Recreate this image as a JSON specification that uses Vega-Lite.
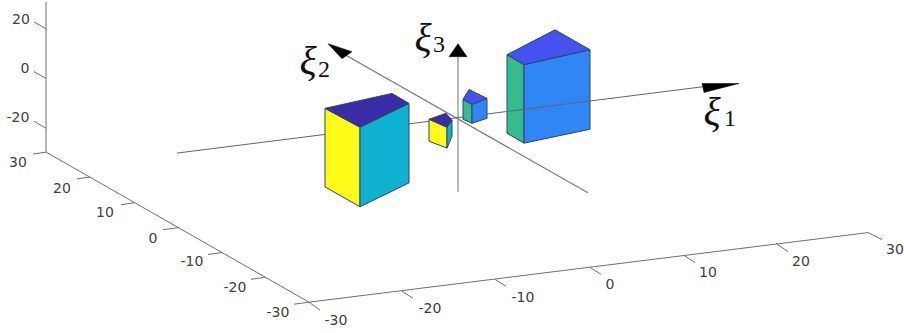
{"$schema":"https://vega.github.io/schema/vega-lite/v6.json","width":904,"height":333,"padding":0,"autosize":{"type":"fit","contains":"padding"},"background":"white","view":{"stroke":null},
"datasets":{
"lines":[
{"s":"zaxis","i":0,"x":46,"y":0},{"s":"zaxis","i":1,"x":46,"y":151},
{"s":"yaxis","i":0,"x":46,"y":151},{"s":"yaxis","i":1,"x":309,"y":302},
{"s":"xaxis","i":0,"x":309,"y":302},{"s":"xaxis","i":1,"x":868,"y":232},
{"s":"zt20","i":0,"x":46,"y":27},{"s":"zt20","i":1,"x":34,"y":20},
{"s":"zt0","i":0,"x":46,"y":77},{"s":"zt0","i":1,"x":34,"y":70},
{"s":"ztm20","i":0,"x":46,"y":127},{"s":"ztm20","i":1,"x":34,"y":120},
{"s":"yt30","i":0,"x":46,"y":151},{"s":"yt30","i":1,"x":33,"y":153},
{"s":"yt20","i":0,"x":90,"y":176},{"s":"yt20","i":1,"x":77,"y":178},
{"s":"yt10","i":0,"x":134,"y":202},{"s":"yt10","i":1,"x":121,"y":204},
{"s":"yt0","i":0,"x":179,"y":227},{"s":"yt0","i":1,"x":163,"y":229},
{"s":"ytm10","i":0,"x":222,"y":252},{"s":"ytm10","i":1,"x":208,"y":254},
{"s":"ytm20","i":0,"x":265,"y":277},{"s":"ytm20","i":1,"x":251,"y":279},
{"s":"ytm30","i":0,"x":309,"y":302},{"s":"ytm30","i":1,"x":294,"y":304},
{"s":"xtm30","i":0,"x":309,"y":302},{"s":"xtm30","i":1,"x":320,"y":310},
{"s":"xtm20","i":0,"x":402,"y":291},{"s":"xtm20","i":1,"x":413,"y":298},
{"s":"xtm10","i":0,"x":495,"y":279},{"s":"xtm10","i":1,"x":506,"y":286},
{"s":"xt0","i":0,"x":590,"y":267},{"s":"xt0","i":1,"x":601,"y":274},
{"s":"xt10","i":0,"x":684,"y":255},{"s":"xt10","i":1,"x":695,"y":262},
{"s":"xt20","i":0,"x":776,"y":243},{"s":"xt20","i":1,"x":788,"y":251},
{"s":"xt30","i":0,"x":868,"y":232},{"s":"xt30","i":1,"x":882,"y":239}
],
"refs":[
{"s":"xi2","i":0,"x":588,"y":192},{"s":"xi2","i":1,"x":345,"y":53},
{"s":"xi3","i":0,"x":458,"y":191},{"s":"xi3","i":1,"x":458,"y":55},
{"s":"xi1","i":0,"x":177,"y":152},{"s":"xi1","i":1,"x":705,"y":85}
],
"faces":[
{"g":"box4","s":"b4l","t":"green","i":0,"x":507,"y":53},{"g":"box4","s":"b4l","t":"green","i":1,"x":524,"y":63},{"g":"box4","s":"b4l","t":"green","i":2,"x":524,"y":142},{"g":"box4","s":"b4l","t":"green","i":3,"x":507,"y":132},
{"g":"box4","s":"b4r","t":"blue","i":0,"x":524,"y":63},{"g":"box4","s":"b4r","t":"blue","i":1,"x":590,"y":48},{"g":"box4","s":"b4r","t":"blue","i":2,"x":590,"y":128},{"g":"box4","s":"b4r","t":"blue","i":3,"x":524,"y":142},
{"g":"box4","s":"b4t","t":"indigo","i":0,"x":507,"y":53},{"g":"box4","s":"b4t","t":"indigo","i":1,"x":555,"y":28},{"g":"box4","s":"b4t","t":"indigo","i":2,"x":590,"y":48},{"g":"box4","s":"b4t","t":"indigo","i":3,"x":524,"y":63},
{"g":"box3","s":"b3l","t":"green","i":0,"x":463,"y":98},{"g":"box3","s":"b3l","t":"green","i":1,"x":472,"y":103},{"g":"box3","s":"b3l","t":"green","i":2,"x":472,"y":122},{"g":"box3","s":"b3l","t":"green","i":3,"x":463,"y":118},
{"g":"box3","s":"b3r","t":"blue","i":0,"x":472,"y":103},{"g":"box3","s":"b3r","t":"blue","i":1,"x":487,"y":97},{"g":"box3","s":"b3r","t":"blue","i":2,"x":487,"y":117},{"g":"box3","s":"b3r","t":"blue","i":3,"x":472,"y":122},
{"g":"box3","s":"b3t","t":"indigo","i":0,"x":463,"y":98},{"g":"box3","s":"b3t","t":"indigo","i":1,"x":469,"y":88},{"g":"box3","s":"b3t","t":"indigo","i":2,"x":487,"y":97},{"g":"box3","s":"b3t","t":"indigo","i":3,"x":472,"y":103},
{"g":"box1","s":"b1l","t":"yellow","i":0,"x":325,"y":107},{"g":"box1","s":"b1l","t":"yellow","i":1,"x":360,"y":126},{"g":"box1","s":"b1l","t":"yellow","i":2,"x":360,"y":206},{"g":"box1","s":"b1l","t":"yellow","i":3,"x":325,"y":186},
{"g":"box1","s":"b1r","t":"cyan","i":0,"x":360,"y":126},{"g":"box1","s":"b1r","t":"cyan","i":1,"x":409,"y":102},{"g":"box1","s":"b1r","t":"cyan","i":2,"x":409,"y":182},{"g":"box1","s":"b1r","t":"cyan","i":3,"x":360,"y":206},
{"g":"box1","s":"b1t","t":"violet","i":0,"x":325,"y":107},{"g":"box1","s":"b1t","t":"violet","i":1,"x":392,"y":92},{"g":"box1","s":"b1t","t":"violet","i":2,"x":409,"y":102},{"g":"box1","s":"b1t","t":"violet","i":3,"x":360,"y":126},
{"g":"box2","s":"b2l","t":"yellow","i":0,"x":429,"y":118},{"g":"box2","s":"b2l","t":"yellow","i":1,"x":447,"y":126},{"g":"box2","s":"b2l","t":"yellow","i":2,"x":447,"y":147},{"g":"box2","s":"b2l","t":"yellow","i":3,"x":429,"y":140},
{"g":"box2","s":"b2r","t":"cyan","i":0,"x":447,"y":126},{"g":"box2","s":"b2r","t":"cyan","i":1,"x":452,"y":119},{"g":"box2","s":"b2r","t":"cyan","i":2,"x":452,"y":135},{"g":"box2","s":"b2r","t":"cyan","i":3,"x":447,"y":147},
{"g":"box2","s":"b2t","t":"violet","i":0,"x":429,"y":118},{"g":"box2","s":"b2t","t":"violet","i":1,"x":446,"y":112},{"g":"box2","s":"b2t","t":"violet","i":2,"x":452,"y":119},{"g":"box2","s":"b2t","t":"violet","i":3,"x":447,"y":126}
],
"heads":[
{"s":"h1","i":0,"x":739,"y":82},{"s":"h1","i":1,"x":702,"y":82},{"s":"h1","i":2,"x":704,"y":91},
{"s":"h2","i":0,"x":328,"y":42},{"s":"h2","i":1,"x":352,"y":50},{"s":"h2","i":2,"x":342,"y":57},
{"s":"h3","i":0,"x":458,"y":42},{"s":"h3","i":1,"x":449,"y":55},{"s":"h3","i":2,"x":467,"y":55}
],
"ticks":[
{"x":21,"y":18,"l":"20"},{"x":25,"y":67,"l":"0"},{"x":18,"y":117,"l":"-20"},{"x":18,"y":162,"l":"30"},
{"x":62,"y":188,"l":"20"},{"x":105,"y":212,"l":"10"},{"x":153,"y":238,"l":"0"},{"x":192,"y":262,"l":"-10"},{"x":235,"y":288,"l":"-20"},{"x":278,"y":313,"l":"-30"},
{"x":336,"y":321,"l":"-30"},{"x":430,"y":309,"l":"-20"},{"x":523,"y":298,"l":"-10"},{"x":610,"y":285,"l":"0"},{"x":708,"y":273,"l":"10"},{"x":801,"y":262,"l":"20"},{"x":895,"y":250,"l":"30"}
],
"greek":[{"x":712,"y":112,"l":"ξ"},{"x":308,"y":60,"l":"ξ"},{"x":423,"y":37,"l":"ξ"}],
"subs":[{"x":730,"y":118,"l":"1"},{"x":324,"y":68,"l":"2"},{"x":439,"y":43,"l":"3"}]
},
"encoding":{
"x":{"field":"x","type":"quantitative","scale":{"domain":[0,904],"nice":false,"zero":false},"axis":null},
"y":{"field":"y","type":"quantitative","scale":{"domain":[333,0],"nice":false,"zero":false},"axis":null}
},
"layer":[
{"data":{"name":"lines"},"mark":{"type":"line","stroke":"#707070","strokeWidth":1},"encoding":{"detail":{"field":"s"},"order":{"field":"i"}}},
{"data":{"name":"refs"},"transform":[{"filter":"datum.s==='xi2'"}],"mark":{"type":"line","stroke":"#777777","strokeWidth":1.1},"encoding":{"order":{"field":"i"}}},
{"data":{"name":"refs"},"transform":[{"filter":"datum.s==='xi3'"}],"mark":{"type":"line","stroke":"#a0a0a0","strokeWidth":1.5},"encoding":{"order":{"field":"i"}}},
{"data":{"name":"faces"},"transform":[{"filter":"datum.g==='box4'"}],"mark":{"type":"line","interpolate":"linear-closed","stroke":"#2f4468","strokeWidth":1},"encoding":{"detail":{"field":"s"},"order":{"field":"i"},"fill":{"field":"t","legend":null,"scale":{"domain":["green","blue","indigo","yellow","cyan","violet"],"range":["#34bc8e","#2f86f4","#4452ee","#fdfb17","#10b2d2","#3a2ca6"]}}}},
{"data":{"name":"refs"},"transform":[{"filter":"datum.s==='xi1'"}],"mark":{"type":"line","stroke":"#666666","strokeWidth":1},"encoding":{"order":{"field":"i"}}},
{"data":{"name":"faces"},"transform":[{"filter":"datum.g!=='box4'"}],"mark":{"type":"line","interpolate":"linear-closed","stroke":"#2f4468","strokeWidth":1},"encoding":{"detail":{"field":"s"},"order":{"field":"i"},"fill":{"field":"t","legend":null,"scale":{"domain":["green","blue","indigo","yellow","cyan","violet"],"range":["#34bc8e","#2f86f4","#4452ee","#fdfb17","#10b2d2","#3a2ca6"]}}}},
{"data":{"name":"heads"},"mark":{"type":"line","interpolate":"linear-closed","stroke":"#000000","strokeWidth":0.5,"fill":"#000000"},"encoding":{"detail":{"field":"s"},"order":{"field":"i"}}},
{"data":{"name":"ticks"},"mark":{"type":"text","font":"DejaVu Sans","fontSize":14,"fill":"#404040","align":"center","baseline":"middle"},"encoding":{"text":{"field":"l"}}},
{"data":{"name":"greek"},"mark":{"type":"text","font":"Liberation Serif","fontStyle":"italic","fontSize":40,"fill":"#111111","align":"center","baseline":"middle"},"encoding":{"text":{"field":"l"}}},
{"data":{"name":"subs"},"mark":{"type":"text","font":"Liberation Serif","fontSize":24,"fill":"#111111","align":"center","baseline":"middle"},"encoding":{"text":{"field":"l"}}}
]}
